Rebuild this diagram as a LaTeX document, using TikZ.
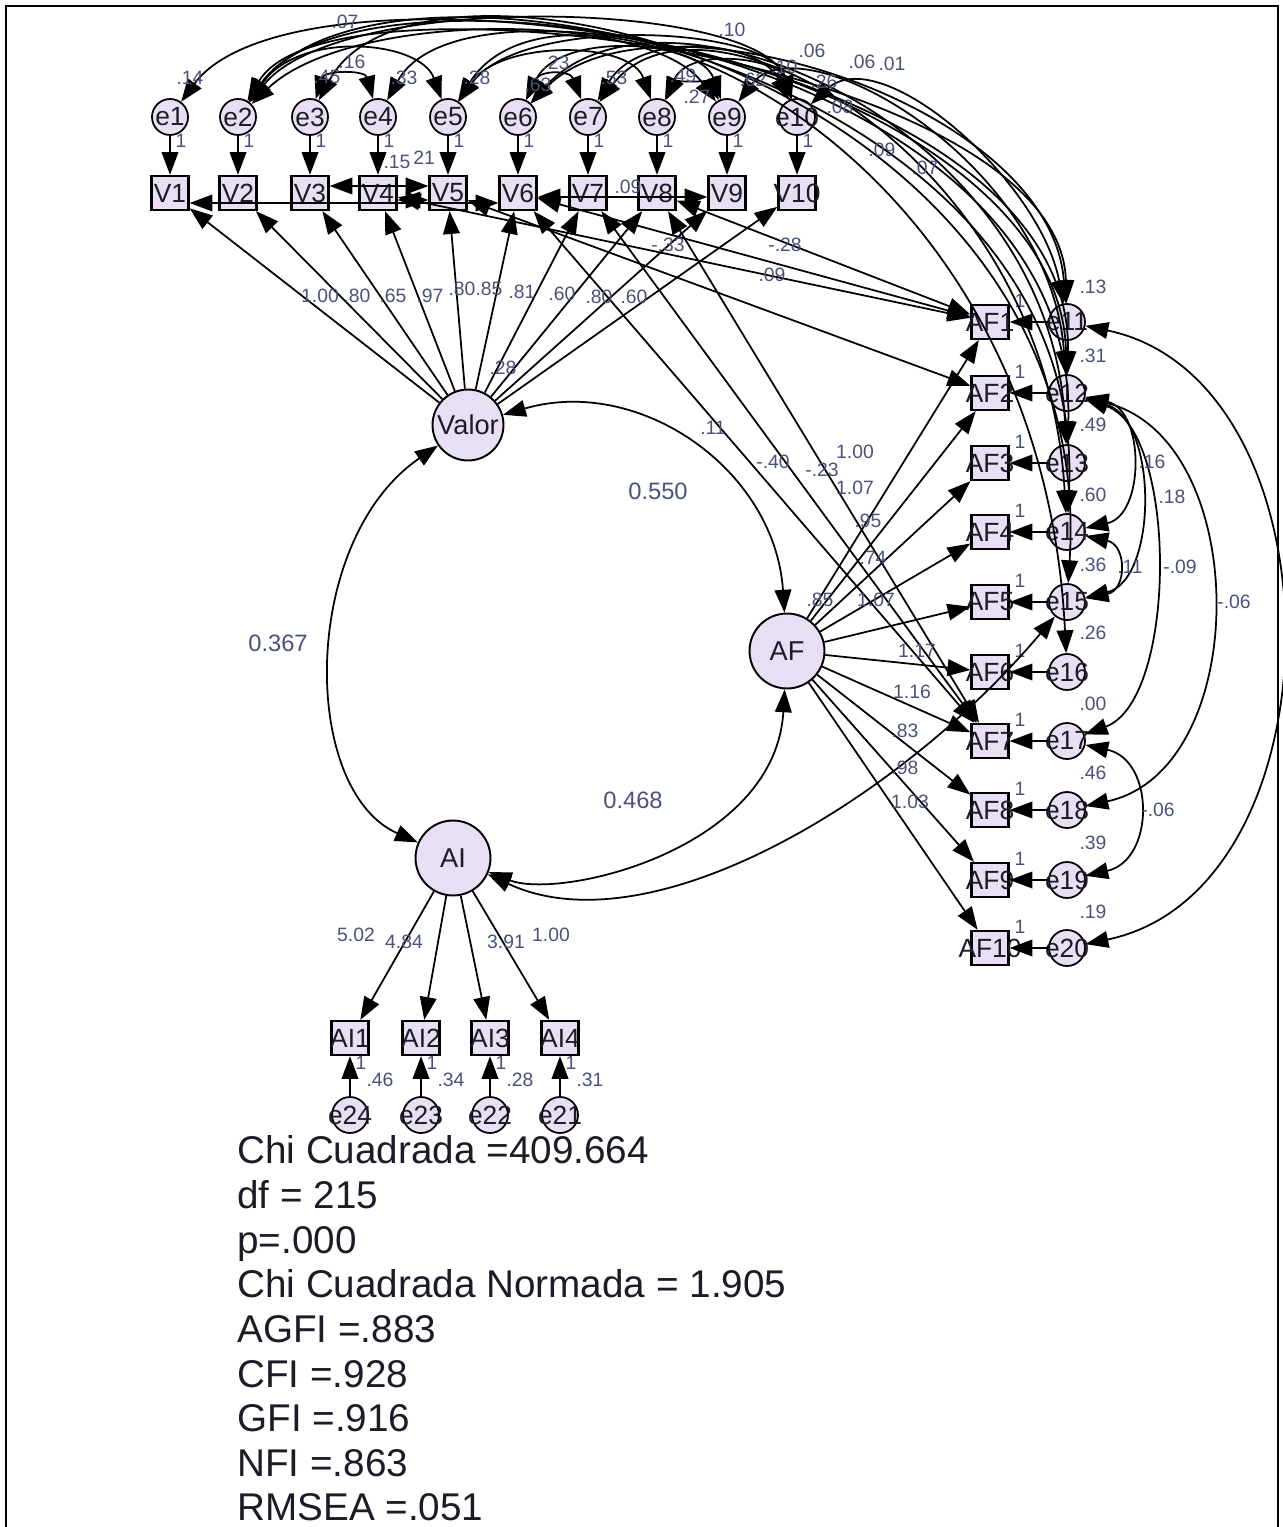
\documentclass[tikz,border=0pt]{standalone}
\usepackage{fontspec}
\setmainfont{Liberation Sans}
\usetikzlibrary{arrows.meta,calc}
\definecolor{nodefill}{RGB}{233,223,244}
\definecolor{lblc}{RGB}{72,82,122}
\definecolor{txtc}{RGB}{28,28,40}
\newcommand\cv[4]{\draw[cov] (#1) .. controls (#3) and (#4) .. (#2);}
\begin{document}
\begin{tikzpicture}[x=0.02cm,y=-0.02cm,
  every node/.style={inner sep=0pt},
  errc/.style={circle,draw,line width=1pt,fill=nodefill,minimum size=0.72cm},
  obs/.style={rectangle,draw,line width=1.3pt,fill=nodefill,minimum width=0.74cm,minimum height=0.68cm},
  lat/.style={circle,draw,line width=1.1pt,fill=nodefill,minimum size=1.44cm},
  ntxt/.style={text=txtc,font=\fontsize{15}{15}\selectfont},
  ltxt/.style={text=txtc,font=\fontsize{15.5}{15.5}\selectfont},
  arr/.style={line width=1pt},
  pth/.style={arr,-{Triangle[length=13pt,width=9.5pt]}},
  cov/.style={arr,{Triangle[length=13pt,width=9.5pt]}-{Triangle[length=13pt,width=9.5pt]}},
  lbl/.style={text=lblc,font=\fontsize{11}{11}\selectfont},
  blbl/.style={text=lblc,font=\fontsize{13.5}{13.5}\selectfont},
  fitt/.style={anchor=base west,text=txtc,font=\fontsize{22}{22}\selectfont}]
\useasboundingbox (0,0) rectangle (1283,1527);
\draw[line width=1.6pt] (6,1540) -- (6,6) -- (1278,6) -- (1278,1540);

% ---------- top row ----------
\foreach \i/\x in {1/170,2/238,3/310,4/378,5/448,6/518,7/588,8/657,9/727,10/797}{
  \node[errc,label={[ntxt]center:e\i}] (e\i) at (\x,117) {};
  \node[obs,label={[ntxt]center:V\i}] (V\i) at (\x,193) {};
  \node[lbl] (one\i) at (\x+11,141) {1};
}
\node[lat,minimum size=1.42cm,label={[ltxt]center:Valor}] (Valor) at (468,425) {};
\node[lat,minimum size=1.5cm,label={[ltxt]center:AF}] (AF) at (787,651) {};
\node[lat,minimum size=1.5cm,label={[ltxt]center:AI}] (AI) at (453,858) {};
\foreach \i in {1,...,10}{
  \draw[pth] (e\i) -- (V\i);
  \draw[pth] (Valor) -- (V\i);
}

% ---------- AF column ----------
\foreach \i/\y in {1/322,2/393,3/463,4/532,5/602,6/672,7/741,8/810,9/880,10/948}{
  \pgfmathtruncatemacro\j{\i+10}
  \node[obs,label={[ntxt]center:AF\i}] (AF\i) at (990,\y) {};
  \node[errc,label={[ntxt]center:e\j}] (e\j) at (1067,\y) {};
  \draw[pth] (e\j) -- (AF\i);
  \draw[pth] (AF) -- (AF\i);
  \node[lbl] (oneAF\i) at (1020,\y-21) {1};
}

% ---------- AI block ----------
\foreach \k/\x/\m in {1/350/24,2/421/23,3/490/22,4/560/21}{
  \node[obs,label={[ntxt]center:AI\k}] (AI\k) at (\x,1038) {};
  \node[errc,label={[ntxt]center:e\m}] (e\m) at (\x,1115) {};
  \draw[pth] (AI) -- (AI\k);
  \draw[pth] (e\m) -- (AI\k);
  \node[lbl] (oneAI\k) at (\x+11,1063) {1};
}

% ---------- latent covariances ----------
\cv{Valor}{AF}{640,375}{775,470}
\cv{Valor}{AI}{300,540}{300,790}
\cv{AI}{AF}{560,900}{775,850}
\cv{AI}{e15}{650,950}{900,800}

% ---------- long covariances top -> right column ----------
\cv{e1}{e12}{300,-60}{1075,40}
\cv{e2}{e11}{330,-40}{1060,60}
\cv{e2}{e13}{360,-60}{1080,40}
\cv{e2}{e14}{380,-80}{1090,60}
\cv{e3}{e15}{420,-90}{1100,80}
\cv{e4}{e12}{470,-50}{1060,90}
\cv{e5}{e16}{560,-60}{1040,120}
\cv{e6}{e11}{650,-20}{1050,100}
\cv{e6}{e13}{660,-40}{1050,120}
\cv{e7}{e14}{700,-30}{1045,150}
\cv{e9}{e12}{800,20}{1050,160}
\cv{e10}{e11}{880,40}{1040,180}

% ---------- covariances within top row ----------
\cv{e3}{e4}{325,70}{365,70}
\cv{e6}{e7}{540,70}{570,70}
\cv{e8}{e9}{675,82}{710,82}
\cv{e2}{e5}{300,30}{420,40}
\cv{e2}{e9}{350,10}{650,10}
\cv{e2}{e10}{340,-10}{760,0}
\cv{e5}{e8}{500,40}{630,40}
\cv{e6}{e9}{560,30}{700,40}
\cv{e7}{e10}{640,30}{760,40}
\cv{e8}{e10}{690,45}{780,60}
\cv{e5}{e10}{520,15}{770,25}

% ---------- covariances right column ----------
\cv{e11}{e20}{1345,380}{1345,890}
\cv{e12}{e18}{1253,440}{1253,770}
\cv{e12}{e17}{1178,430}{1178,700}
\cv{e12}{e15}{1158,420}{1158,580}
\cv{e12}{e14}{1145,410}{1145,515}
\cv{e14}{e15}{1127,545}{1127,590}
\cv{e17}{e19}{1155,760}{1155,860}

% ---------- covariances between indicators ----------
\draw[cov] ($(V1.east)+(0,10)$) -- ($(V6.west)+(0,10)$);
\draw[cov] ($(V3.east)+(0,-7)$) -- ($(V5.west)+(0,-7)$);
\draw[cov] ($(V4.east)+(0,7)$) -- ($(V5.west)+(0,7)$);
\draw[cov] ($(V6.east)+(0,4)$) -- ($(V9.west)+(0,4)$);
\draw[cov] (V4) -- (AF1);
\draw[cov] (V6) -- (AF1);
\draw[cov] (V8) -- (AF1);
\draw[cov] (V5) -- (AF2);
\draw[cov] (V6) -- (AF7);
\draw[cov] (V7) -- (AF7);
\draw[cov] (V8) -- (AF7);

% ---------- labels: top ----------
\node[lbl] (t1) at (190,78) {.14};
\node[lbl] (t2) at (327,77) {.45};
\node[lbl] (t3) at (352,62) {.16};
\node[lbl] (t4) at (404,78) {.33};
\node[lbl] (t5) at (477,78) {.28};
\node[lbl] (t6) at (556,63) {.23};
\node[lbl] (t7) at (538,85) {.63};
\node[lbl] (t8) at (614,78) {.53};
\node[lbl] (t9) at (683,76) {.49};
\node[lbl] (t10) at (697,97) {.27};
\node[lbl] (t11) at (753,80) {.62};
\node[lbl] (t12) at (784,67) {.10};
\node[lbl] (t13) at (824,82) {.26};
\node[lbl] (t14) at (812,51) {.06};
\node[lbl] (t15) at (862,62) {.06};
\node[lbl] (t16) at (892,64) {.01};
\node[lbl] (t17) at (732,30) {.10};
\node[lbl] (t18) at (345,22) {.07};
\node[lbl] (t19) at (840,107) {.08};
\node[lbl] (t20) at (882,150) {.09};
\node[lbl] (t21) at (925,168) {.07};
\node[lbl] (t22) at (397,162) {.15};
\node[lbl] (t23) at (424,158) {21};
\node[lbl] (t24) at (628,187) {.09};

% ---------- labels: Valor loadings ----------
\node[lbl] (v1) at (320,296) {1.00};
\node[lbl] (v2) at (357,296) {.80};
\node[lbl] (v3) at (393,296) {.65};
\node[lbl] (v4) at (430,296) {.97};
\node[lbl] (v5) at (462,289) {.80};
\node[lbl] (v6) at (489,289) {.85};
\node[lbl] (v7) at (522,292) {.81};
\node[lbl] (v8) at (562,294) {.60};
\node[lbl] (v9) at (599,297) {.80};
\node[lbl] (v10) at (634,297) {.60};
\node[lbl] (v11) at (503,368) {.28};

% ---------- labels: cross lines ----------
\node[lbl] (c1) at (668,245) {-.33};
\node[lbl] (c2) at (785,245) {-.28};
\node[lbl] (c3) at (772,275) {.09};
\node[lbl] (c4) at (713,428) {.11};
\node[lbl] (c5) at (773,462) {-.40};
\node[lbl] (c6) at (822,470) {-.23};

\node[blbl] (k1) at (658,491) {0.550};
\node[blbl] (k2) at (278,643) {0.367};
\node[blbl] (k3) at (633,800) {0.468};

% ---------- labels: AF loadings ----------
\node[lbl] (a1) at (855,452) {1.00};
\node[lbl] (a2) at (855,488) {1.07};
\node[lbl] (a3) at (868,521) {.95};
\node[lbl] (a4) at (873,558) {.74};
\node[lbl] (a5) at (820,600) {.85};
\node[lbl] (a6) at (876,600) {1.07};
\node[lbl] (a7) at (917,651) {1.17};
\node[lbl] (a8) at (912,692) {1.16};
\node[lbl] (a9) at (905,731) {.83};
\node[lbl] (a10) at (905,768) {.98};
\node[lbl] (a11) at (910,802) {1.03};

% ---------- labels: right column ----------
\node[lbl] (r1) at (1093,287) {.13};
\node[lbl] (r2) at (1093,356) {.31};
\node[lbl] (r3) at (1093,425) {.49};
\node[lbl] (r4) at (1093,495) {.60};
\node[lbl] (r5) at (1093,565) {.36};
\node[lbl] (r6) at (1093,633) {.26};
\node[lbl] (r7) at (1093,704) {.00};
\node[lbl] (r8) at (1093,773) {.46};
\node[lbl] (r9) at (1093,843) {.39};
\node[lbl] (r10) at (1093,912) {.19};
\node[lbl] (r11) at (1152,462) {.16};
\node[lbl] (r12) at (1172,497) {.18};
\node[lbl] (r13) at (1130,567) {.11};
\node[lbl] (r14) at (1180,567) {-.09};
\node[lbl] (r15) at (1234,602) {-.06};
\node[lbl] (r16) at (1158,810) {-.06};

% ---------- labels: AI ----------
\node[lbl] (i1) at (356,935) {5.02};
\node[lbl] (i2) at (404,942) {4.84};
\node[lbl] (i3) at (506,942) {3.91};
\node[lbl] (i4) at (551,935) {1.00};
\node[lbl] (i5) at (380,1080) {.46};
\node[lbl] (i6) at (451,1080) {.34};
\node[lbl] (i7) at (520,1080) {.28};
\node[lbl] (i8) at (590,1080) {.31};

% ---------- fit measures ----------
\node[fitt] (f1) at (237,1163) {Chi Cuadrada =409.664};
\node[fitt] (f2) at (237,1208) {df = 215};
\node[fitt] (f3) at (237,1253) {p=.000};
\node[fitt] (f4) at (237,1297) {Chi Cuadrada Normada = 1.905};
\node[fitt] (f5) at (237,1342) {AGFI =.883};
\node[fitt] (f6) at (237,1387) {CFI =.928};
\node[fitt] (f7) at (237,1431) {GFI =.916};
\node[fitt] (f8) at (237,1476) {NFI =.863};
\node[fitt] (f9) at (237,1520) {RMSEA =.051};
\end{tikzpicture}
\end{document}
